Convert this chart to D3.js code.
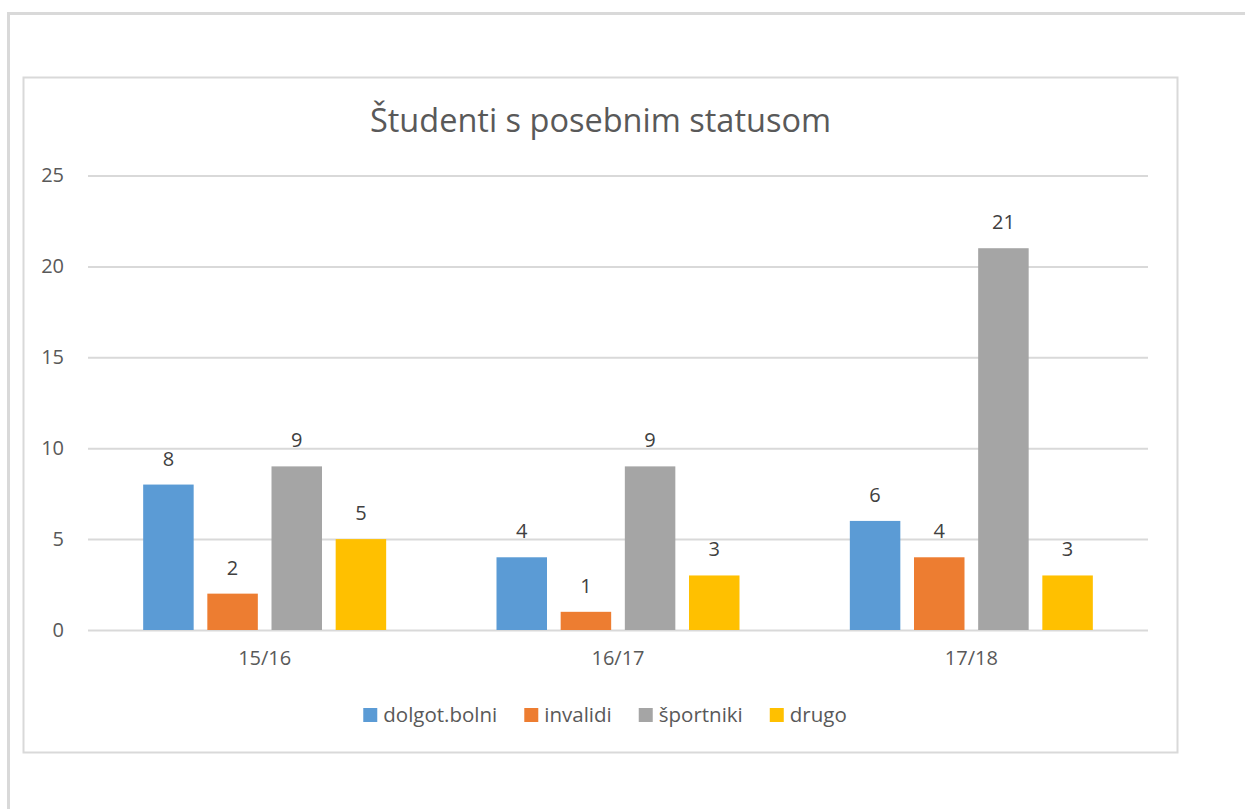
<!DOCTYPE html>
<html>
<head>
<meta charset="utf-8">
<script src="https://cdn.jsdelivr.net/npm/d3@7"></script>
<style>
  body { margin: 0; background: #fff; }
  text { font-family: "Open Sans", sans-serif; fill: #595959; }
</style>
</head>
<body>
<div id="chart"></div>
<script>
// Data
var years = ['15/16', '16/17', '17/18'];
var seriesNames = ['dolgot.bolni', 'invalidi', 'športniki', 'drugo'];
var dolgotBolni = [8, 4, 6];
var invalidi = [2, 1, 4];
var sportniki = [9, 9, 21];
var drugo = [5, 3, 3];
var yTicks = [0, 5, 10, 15, 20, 25];
var color = ['#5B9BD5', '#ED7D31', '#A5A5A5', '#FFC000'];

function makeChart(divId) {
    var W = 1245, H = 809;
    var plot = {left: 88, right: 1148, top: 175.5, bottom: 630};
    var values = [dolgotBolni, invalidi, sportniki, drugo];

    var svg = d3.select(divId).append("svg")
        .attr("width", W)
        .attr("height", H);

    // outer page frame
    svg.append("line")
        .attr("x1", 7).attr("x2", W).attr("y1", 13.5).attr("y2", 13.5)
        .style("stroke", "#d9d9d9").style("stroke-width", 3);
    svg.append("line")
        .attr("x1", 8.5).attr("x2", 8.5).attr("y1", 12).attr("y2", H)
        .style("stroke", "#d9d9d9").style("stroke-width", 3);

    // chart area border
    svg.append("rect")
        .attr("x", 23.5).attr("y", 77.5)
        .attr("width", 1154).attr("height", 675)
        .style("fill", "none")
        .style("stroke", "#d9d9d9")
        .style("stroke-width", 2);

    // title
    svg.append("text")
        .attr("x", 600.5).attr("y", 132)
        .style("text-anchor", "middle")
        .style("font-size", "32.5px")
        .text("Študenti s posebnim statusom");

    // scales
    var y = d3.scaleLinear().domain([0, 25]).range([plot.bottom, plot.top]);
    var x0 = d3.scaleBand().domain(years).range([plot.left, plot.right]);
    var groupW = 243;
    var x1 = d3.scaleBand().domain(seriesNames).range([0, groupW]).paddingInner(0.213);

    // gridlines + y labels
    var yAxis = d3.axisLeft(y).tickValues(yTicks).tickSize(0).tickPadding(24);
    var gy = svg.append("g")
        .attr("transform", "translate(" + plot.left + ",0)")
        .call(yAxis);
    gy.select(".domain").remove();
    gy.selectAll(".tick line")
        .attr("x2", plot.right - plot.left)
        .style("stroke", "#d9d9d9").style("stroke-width", 2);
    gy.selectAll(".tick text")
        .style("font-size", "20px")
        .style("font-family", "Open Sans")
        .style("fill", "#595959");

    // x labels
    var xAxis = d3.axisBottom(x0).tickSize(0).tickPadding(21);
    var gx = svg.append("g")
        .attr("transform", "translate(0," + plot.bottom + ")")
        .call(xAxis);
    gx.select(".domain").remove();
    gx.selectAll(".tick text")
        .style("font-size", "20px")
        .style("font-family", "Open Sans")
        .style("fill", "#595959");

    // bars
    var groups = svg.selectAll(".grp")
        .data(years)
        .enter().append("g")
        .attr("class", "grp")
        .attr("transform", function(d) {
            return "translate(" + (x0(d) + (x0.bandwidth() - groupW) / 2) + ",0)";
        });

    groups.each(function(yr, i) {
        var g = d3.select(this);
        seriesNames.forEach(function(s, k) {
            var v = values[k][i];
            g.append("rect")
                .attr("x", x1(s))
                .attr("y", y(v))
                .attr("width", x1.bandwidth())
                .attr("height", y(0) - y(v))
                .style("fill", color[k]);
            g.append("text")
                .attr("x", x1(s) + x1.bandwidth() / 2)
                .attr("y", y(v) - 19)
                .style("text-anchor", "middle")
                .style("font-size", "20px")
                .style("fill", "#404040")
                .text(v);
        });
    });

    // legend
    var legend = svg.append("g");
    var xPos = 0, gap = 27;
    seriesNames.forEach(function(s, k) {
        legend.append("rect")
            .attr("x", xPos).attr("y", 708)
            .attr("width", 14).attr("height", 14)
            .style("fill", color[k]);
        var t = legend.append("text")
            .attr("x", xPos + 20).attr("y", 722)
            .style("font-size", "20.5px")
            .text(s);
        xPos += 20 + t.node().getComputedTextLength() + gap;
    });
    var legendW = xPos - gap;
    legend.attr("transform", "translate(" + (605 - legendW / 2) + ",0)");
}

makeChart("#chart");
</script>
</body>
</html>
